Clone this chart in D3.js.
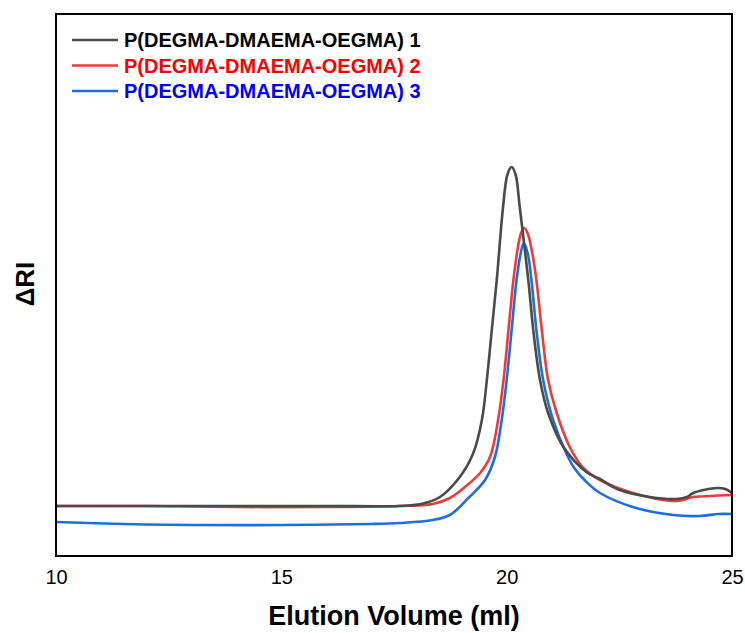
<!DOCTYPE html>
<html>
<head>
<meta charset="utf-8">
<script src="https://cdn.jsdelivr.net/npm/d3@7"></script>
<style>
  body { margin: 0; background: #fff; }
  text { font-family: "Liberation Sans", Arial, sans-serif; }
</style>
</head>
<body>
<script>
// elution volume (ml) and detector response (relative units, 0 = bottom of frame)
var vol1 = [10, 12, 14, 16, 17.6, 18.1, 18.52, 18.96, 19.26, 19.45, 19.56, 19.67, 19.78, 19.92, 20.02, 20.11, 20.2, 20.29, 20.48, 20.59, 20.74, 20.92, 21.26, 21.77, 22.07, 22.45, 23.18, 23.78, 24.0, 24.14, 24.67, 24.85, 25];
var ri1  = [50, 50, 50, 50, 50, 52, 59, 79, 103, 136, 176, 226, 276, 349, 382, 389, 381, 349, 276, 226, 176, 143, 109, 84, 77, 67, 59, 57, 59, 63, 68, 67, 63];

var vol2 = [10, 12, 14, 16, 17.63, 18.36, 18.74, 19.1, 19.41, 19.63, 19.81, 19.93, 20.04, 20.15, 20.25, 20.32, 20.39, 20.47, 20.56, 20.66, 20.78, 20.92, 21.11, 21.4, 21.7, 22.07, 22.8, 23.69, 23.91, 24.14, 24.5, 25];
var ri2  = [50, 50, 49, 49, 50, 52, 58, 70, 83, 99, 136, 176, 226, 276, 309, 323, 328, 322, 305, 276, 226, 176, 143, 109, 88, 76, 63, 55, 56, 59, 60, 61];

var vol3 = [10, 11.5, 13, 15, 17, 17.63, 18.36, 18.74, 19.15, 19.52, 19.74, 19.89, 20.0, 20.11, 20.22, 20.3, 20.38, 20.47, 20.55, 20.66, 20.81, 21.03, 21.33, 21.5, 21.77, 22.07, 22.8, 23.69, 24.29, 24.7, 25];
var ri3  = [34, 32, 31, 31, 32, 33, 36, 41, 58, 76, 99, 136, 176, 226, 276, 300, 313, 302, 276, 226, 176, 136, 102, 88, 74, 63, 49, 41, 40, 42, 42];

var seriesNames = ["P(DEGMA-DMAEMA-OEGMA) 1", "P(DEGMA-DMAEMA-OEGMA) 2", "P(DEGMA-DMAEMA-OEGMA) 3"];
var lineColours = ["#4a4a4a", "#ef3a3d", "#1b6fe0"];
var textColours = ["#000000", "#ff0000", "#0000ff"];
var xTicks = [10, 15, 20, 25];

var width = 745, height = 633;
var margin = {left: 56, right: 13, top: 14, bottom: 77};

var svg = d3.select("body").append("svg")
  .attr("width", width)
  .attr("height", height);

var x = d3.scaleLinear().domain([10, 25]).range([margin.left, width - margin.right]);
var y = d3.scaleLinear().domain([0, 542]).range([height - margin.bottom, margin.top]);

var series = [
  {vol: vol1, ri: ri1},
  {vol: vol2, ri: ri2},
  {vol: vol3, ri: ri3}
];

var line = d3.line()
  .x(function(d) { return x(d[0]); })
  .y(function(d) { return y(d[1]); })
  .curve(d3.curveCatmullRom.alpha(0.5));

svg.append("clipPath").attr("id", "clip")
  .append("rect")
  .attr("x", margin.left).attr("y", margin.top)
  .attr("width", width - margin.left - margin.right)
  .attr("height", height - margin.top - margin.bottom);

// draw 3 first so 1 and 2 end up on top like in the original
[2, 1, 0].forEach(function(i) {
  var pts = series[i].vol.map(function(v, j) { return [v, series[i].ri[j]]; });
  svg.append("path")
    .attr("d", line(pts))
    .attr("clip-path", "url(#clip)")
    .attr("fill", "none")
    .attr("stroke", lineColours[i])
    .attr("stroke-width", 2.6);
});

// frame
svg.append("rect")
  .attr("x", margin.left).attr("y", margin.top)
  .attr("width", width - margin.left - margin.right)
  .attr("height", height - margin.top - margin.bottom)
  .attr("fill", "none")
  .attr("stroke", "#000")
  .attr("stroke-width", 2);

// x axis labels only, no tick marks
var xAxis = d3.axisBottom(x).tickValues(xTicks).tickSize(0).tickPadding(14);
var gx = svg.append("g")
  .attr("transform", "translate(0," + (height - margin.bottom) + ")")
  .call(xAxis);
gx.select(".domain").remove();
gx.selectAll("text")
  .attr("font-family", "Liberation Sans, Arial, sans-serif")
  .attr("font-size", 20)
  .attr("fill", "#000");

svg.append("text")
  .attr("x", (margin.left + width - margin.right) / 2)
  .attr("y", 625)
  .attr("text-anchor", "middle")
  .attr("font-size", 27)
  .attr("font-weight", "bold")
  .text("Elution Volume (ml)");

svg.append("text")
  .attr("transform", "translate(34,284) rotate(-90)")
  .attr("text-anchor", "middle")
  .attr("font-size", 26)
  .attr("font-weight", "bold")
  .text("\u0394RI");

// legend
seriesNames.forEach(function(name, i) {
  var ly = 40 + i * 25.5;
  svg.append("line")
    .attr("x1", 72).attr("x2", 118)
    .attr("y1", ly).attr("y2", ly)
    .attr("stroke", lineColours[i])
    .attr("stroke-width", 2.6);
  svg.append("text")
    .attr("x", 124).attr("y", ly)
    .attr("dy", "0.35em")
    .attr("font-size", 20)
    .attr("font-weight", "bold")
    .attr("fill", textColours[i])
    .text(name);
});
</script>
</body>
</html>
